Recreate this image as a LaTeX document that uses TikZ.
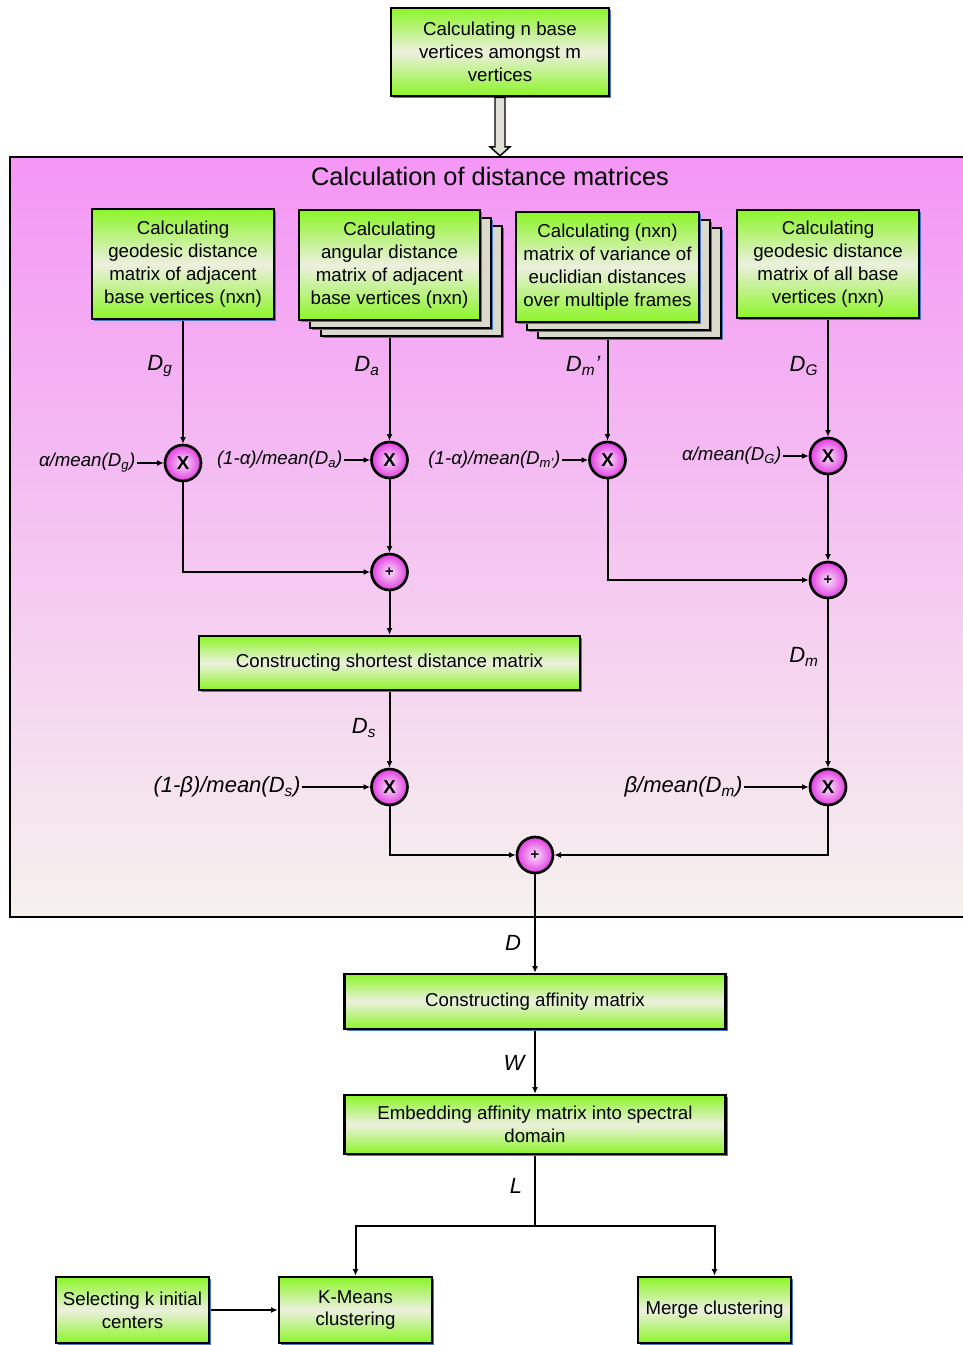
\documentclass[tikz,border=0pt]{standalone}
\usepackage{fontspec}
\setmainfont{Liberation Sans}
\usetikzlibrary{arrows.meta,shadows,calc}
\pgfdeclarelayer{framelayer}
\pgfdeclarelayer{linelayer}
\pgfsetlayers{framelayer,linelayer,main}
\definecolor{boxgreen}{RGB}{140,245,40}
\definecolor{boxmid}{RGB}{236,240,222}
\definecolor{shadowblue}{RGB}{70,120,205}
\definecolor{stackgray}{RGB}{218,218,204}
\definecolor{frametop}{RGB}{244,150,245}
\definecolor{framebot}{RGB}{245,242,237}
\definecolor{circin}{RGB}{250,225,250}
\definecolor{circout}{RGB}{225,60,225}
\definecolor{arrowfill}{RGB}{225,225,215}
\newcommand\boxfont{\fontsize{14}{17.2}\selectfont}
\newcommand\titlefont{\fontsize{19}{22}\selectfont}
\newcommand\labfont{\fontsize{14}{16}\selectfont\itshape}
\newcommand\biglab{\fontsize{16.5}{19}\selectfont\itshape}
\tikzset{
  boxbase/.style={draw=black, line width=2pt, top color=boxgreen, bottom color=boxgreen,
    middle color=boxmid, align=center, inner sep=2pt, font=\boxfont},
  box/.style={boxbase, drop shadow={shadow xshift=1.6pt, shadow yshift=-1.6pt, fill=shadowblue, opacity=1}},
  stackbox/.style={
    general shadow={shadow xshift=18.1pt, shadow yshift=-13.6pt, fill=shadowblue},
    general shadow={shadow xshift=16.5pt, shadow yshift=-12pt, fill=stackgray, draw=black, line width=2pt},
    general shadow={shadow xshift=9.85pt, shadow yshift=-7.6pt, fill=shadowblue},
    general shadow={shadow xshift=8.25pt, shadow yshift=-6pt, fill=stackgray, draw=black, line width=2pt},
    general shadow={shadow xshift=1.6pt, shadow yshift=-1.6pt, fill=shadowblue},
    boxbase},
  op/.style={circle, draw=black, line width=2pt, inner color=circin, outer color=circout,
    minimum size=36*0.75pt, inner sep=0pt, font=\bfseries\fontsize{14}{14}\selectfont},
  plusop/.style={op, font=\bfseries\fontsize{11}{11}\selectfont},
  arr/.style={line width=1.5pt, -{Latex[length=5pt,width=4.5pt]}},
  ln/.style={line width=1.5pt},
  mult/.style={anchor=east, inner sep=1pt, font=\labfont},
  bigmult/.style={anchor=east, inner sep=1pt, font=\biglab},
  dlab/.style={inner sep=1pt, font=\biglab},
}
\begin{document}
\begin{tikzpicture}[x=0.75pt,y=-0.75pt]
\useasboundingbox (0,0) rectangle (963,1345);

% frame
\begin{pgfonlayer}{framelayer}
\node[draw=black, line width=1.8pt, top color=frametop, bottom color=framebot,
  minimum width=956*0.75pt, minimum height=760*0.75pt, inner sep=0pt] (frame) at (488,537) {};
\end{pgfonlayer}
\node[font=\titlefont] (title) at (490,176) {Calculation of distance matrices};

% top box
\node[box, minimum width=218*0.75pt, minimum height=88*0.75pt] (top) at (500,52)
  {Calculating n base\\vertices amongst m\\vertices};

% hollow arrow
\draw[line width=1.1pt, fill=arrowfill]
  ($(top.south)+(-5,0)$) -- ($(top.south |- frame.north)+(-5,-9)$) -- ++(-5,0)
  -- (top.south |- frame.north) -- ($(top.south |- frame.north)+(10,-9)$) -- ++(-5,0)
  -- ($(top.south)+(5,0)$) -- cycle;

% row of boxes
\node[box, minimum width=182*0.75pt, minimum height=110*0.75pt] (b1) at (183,264)
  {Calculating\\geodesic distance\\matrix of adjacent\\base vertices (nxn)};
\node[stackbox, minimum width=181*0.75pt, minimum height=110*0.75pt] (b2) at (389.5,265)
  {Calculating\\angular distance\\matrix of adjacent\\base vertices (nxn)};
\node[stackbox, minimum width=183*0.75pt, minimum height=110*0.75pt] (b3) at (607.5,267)
  {Calculating (nxn)\\matrix of variance of\\euclidian distances\\over multiple frames};
\node[box, minimum width=182*0.75pt, minimum height=108*0.75pt] (b4) at (828,264)
  {Calculating\\geodesic distance\\matrix of all base\\vertices (nxn)};

% operators
\node[op] (X1) at (183,463) {X};
\node[op] (X2) at (389.5,460) {X};
\node[op] (X3) at (607.5,460) {X};
\node[op] (X4) at (828,456) {X};
\node[plusop] (P1) at (389.5,572) {+};
\node[plusop] (P2) at (828,580) {+};
\node[op] (X5) at (389.5,787) {X};
\node[op] (X6) at (828,787) {X};
\node[plusop] (P3) at (535,855) {+};

% labels
\node[dlab] (lDg) at (160,366) {D\textsubscript{g}};
\node[dlab] (lDa) at (367,366) {D\textsubscript{a}};
\node[dlab] (lDm1) at (583,366) {D\textsubscript{m}’};
\node[dlab] (lDG) at (804,366) {D\textsubscript{G}};
\node[dlab] (lDs) at (364,728) {D\textsubscript{s}};
\node[dlab] (lDm) at (804,657) {D\textsubscript{m}};
\node[dlab] (lD) at (513,943) {D};
\node[dlab] (lW) at (514,1063) {W};
\node[dlab] (lL) at (516,1186) {L};

\node[mult] (m1) at (137,463) {α/mean(D\textsubscript{g})};
\node[mult] (m2) at (344,460) {(1-α)/mean(D\textsubscript{a})};
\node[mult] (m3) at (562,460) {(1-α)/mean(D\textsubscript{m’})};
\node[mult] (m4) at (783,456) {α/mean(D\textsubscript{G})};
\node[bigmult] (m5) at (302,787) {(1-β)/mean(D\textsubscript{s})};
\node[bigmult] (m6) at (744,787) {β/mean(D\textsubscript{m})};

% lower boxes
\node[box, minimum width=381*0.75pt, minimum height=54*0.75pt] (S) at (389.5,663)
  {Constructing shortest distance matrix};
\node[box, minimum width=381*0.75pt, minimum height=55*0.75pt] (A) at (535,1001.5)
  {Constructing affinity matrix};
\node[box, minimum width=381*0.75pt, minimum height=59*0.75pt] (E) at (535,1124.5)
  {Embedding affinity matrix into spectral\\domain};
\coordinate (J) at (535,1226);
\node[box, minimum width=153*0.75pt, minimum height=66*0.75pt] (Sel) at (132.5,1310)
  {Selecting k initial\\centers};
\node[box, minimum width=153*0.75pt, minimum height=66*0.75pt] (K) at (355.5,1310)
  {K-Means\\clustering};
\node[box, minimum width=153*0.75pt, minimum height=66*0.75pt] (M) at (714.5,1310)
  {Merge clustering};

% connectors
\begin{pgfonlayer}{linelayer}
\draw[arr] (b1) -- (X1);
\draw[arr] (b2) -- (X2);
\draw[arr] (b3) -- (X3);
\draw[arr] (b4) -- (X4);
\draw[arr] (X1) |- (P1);
\draw[arr] (X2) -- (P1);
\draw[arr] (X3) |- (P2);
\draw[arr] (X4) -- (P2);
\draw[arr] (P1) -- (S);
\draw[arr] (S) -- (X5);
\draw[arr] (P2) -- (X6);
\draw[arr] (X5) |- (P3);
\draw[arr] (X6) |- (P3);
\draw[arr] (P3) -- (A);
\draw[arr] (A) -- (E);
\draw[ln] (E) -- (J);
\draw[arr] (J) -| (K);
\draw[arr] (J) -| (M);
\draw[arr] (Sel) -- (K);
\end{pgfonlayer}
\draw[arr] (m1) -- (X1);
\draw[arr] (m2) -- (X2);
\draw[arr] (m3) -- (X3);
\draw[arr] (m4) -- (X4);
\draw[arr] (m5) -- (X5);
\draw[arr] (m6) -- (X6);
\end{tikzpicture}
\end{document}
